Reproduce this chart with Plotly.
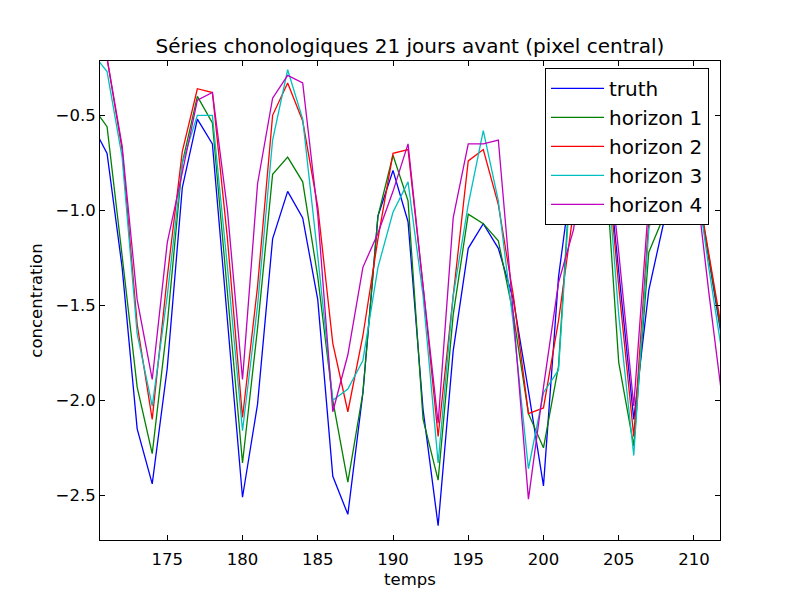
import plotly.graph_objects as go

# time axis (days)
temps = list(range(170, 213))

# values (concentration, pixel central)
truth = [
    -0.55, -0.70, -1.30, -2.15, -2.44, -1.83, -0.88, -0.52, -0.65, -1.57,
    -2.51, -2.02, -1.15, -0.90, -1.04, -1.47, -2.40, -2.60, -1.96, -1.03,
    -0.79, -1.06, -2.05, -2.66, -1.74, -1.20, -1.07, -1.20, -1.47, -1.95,
    -2.45, -1.35, -0.75, -0.45, -0.53, -1.32, -2.10, -1.42, -1.06, -0.85,
    -0.78, -1.26, -1.75,
]
horizon_1 = [
    -0.45, -0.56, -1.24, -1.93, -2.28, -1.60, -0.75, -0.40, -0.54, -1.43,
    -2.33, -1.62, -0.81, -0.72, -0.85, -1.35, -2.00, -2.43, -1.96, -1.03,
    -0.71, -0.95, -2.10, -2.42, -1.55, -1.02, -1.07, -1.16, -1.55, -2.07,
    -2.25, -1.82, -0.55, -0.40, -0.61, -1.80, -2.24, -1.22, -1.03, -0.80,
    -0.76, -1.25, -1.73,
]
horizon_2 = [
    -0.05, -0.20, -0.68, -1.60, -2.10, -1.35, -0.69, -0.36, -0.38, -1.15,
    -2.09, -1.40, -0.50, -0.33, -0.53, -0.98, -1.70, -2.06, -1.66, -1.15,
    -0.70, -0.68, -1.40, -2.19, -1.45, -0.74, -0.68, -0.97, -1.45, -2.07,
    -2.04, -1.58, -1.00, -0.45, -0.54, -1.40, -2.19, -1.05, -0.70, -0.60,
    -0.77, -1.23, -1.70,
]
horizon_3 = [
    -0.17, -0.27, -0.72, -1.65, -2.03, -1.45, -0.75, -0.50, -0.50, -1.30,
    -2.16, -1.50, -0.63, -0.26, -0.52, -1.24, -2.00, -1.94, -1.79, -1.30,
    -1.01, -0.85, -1.45, -2.33, -1.45, -0.97, -0.58, -0.95, -1.60, -2.36,
    -1.96, -1.84, -0.60, -0.40, -0.55, -1.55, -2.29, -1.10, -0.75, -0.62,
    -0.75, -1.31, -1.82,
]
horizon_4 = [
    -0.10, -0.20, -0.66, -1.47, -1.89, -1.17, -0.80, -0.42, -0.38, -1.00,
    -1.89, -0.86, -0.41, -0.29, -0.33, -1.02, -2.06, -1.76, -1.30, -1.12,
    -0.90, -0.65, -1.40, -2.12, -1.04, -0.65, -0.65, -0.63, -1.55, -2.52,
    -1.93, -1.38, -1.10, -0.50, -0.48, -1.22, -2.03, -0.95, -0.60, -0.55,
    -0.76, -1.44, -2.07,
]

series_names = ["truth", "horizon 1", "horizon 2", "horizon 3", "horizon 4"]
series_values = [truth, horizon_1, horizon_2, horizon_3, horizon_4]
# old matplotlib colour cycle b, g, r, c, m
colors = ["#0000ff", "#008000", "#ff0000", "#00bfbf", "#bf00bf"]

x_ticks = [175, 180, 185, 190, 195, 200, 205, 210]
y_ticks = [-2.5, -2.0, -1.5, -1.0, -0.5]

fig = go.Figure()
for name, vals, col in zip(series_names, series_values, colors):
    fig.add_trace(
        go.Scatter(
            x=temps,
            y=vals,
            mode="lines",
            name=name,
            legendgroup=name,
            line=dict(color=col, width=1.3),
        )
    )

axis_style = dict(
    showline=True,
    linecolor="black",
    linewidth=1,
    mirror="ticks",
    ticks="inside",
    ticklen=5,
    tickwidth=1,
    tickcolor="black",
    showgrid=False,
    zeroline=False,
    tickfont=dict(size=16.5, color="black"),
)

fig.update_layout(
    width=800,
    height=600,
    font=dict(family="DejaVu Sans", color="black"),
    paper_bgcolor="white",
    plot_bgcolor="white",
    margin=dict(l=100, r=80, t=61, b=60),
    title=dict(
        text="Séries chonologiques 21 jours avant (pixel central)",
        font=dict(size=20),
        x=0.5125,
        xanchor="center",
        yref="container",
        y=1 - 46 / 600,
        yanchor="middle",
    ),
    xaxis=dict(
        range=[170.53, 211.73],
        tickvals=x_ticks,
        ticklabelstandoff=4,
        title=dict(text="temps", font=dict(size=16.5), standoff=5),
        **axis_style,
    ),
    yaxis=dict(
        range=[-2.735, -0.214],
        tickvals=y_ticks,
        tickformat=".1f",
        title=dict(text="concentration", font=dict(size=16.5), standoff=8),
        **axis_style,
    ),
    legend=dict(
        x=(545 - 100) / 620,
        y=(539.7 - 67.5) / 479,
        xanchor="left",
        yanchor="top",
        bgcolor="white",
        bordercolor="black",
        borderwidth=1,
        font=dict(size=20),
        traceorder="grouped",
        tracegroupgap=0,
        itemwidth=53,
    ),
    showlegend=True,
)

# the page body has an 8px default margin, drop it so the figure sits at 0,0
fig.write_html(
    "out.html",
    config={"displayModeBar": False},
    post_script="document.body.style.margin = '0';",
)
